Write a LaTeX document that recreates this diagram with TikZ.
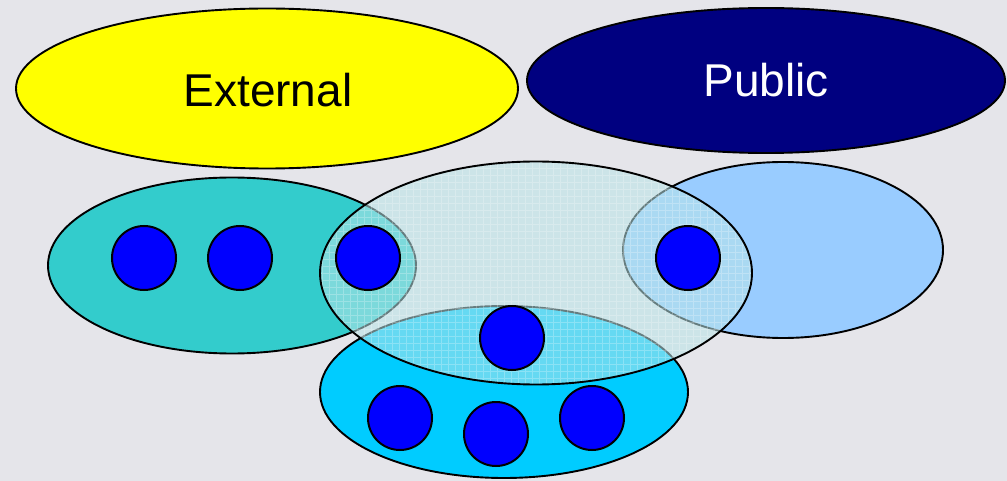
\documentclass[tikz,border=0pt]{standalone}
\usepackage{fontspec}
\setmainfont{Liberation Sans}
\usetikzlibrary{shapes.geometric}
\definecolor{bgray}{RGB}{229,229,234}
\definecolor{extyellow}{RGB}{255,255,0}
\definecolor{pubnavy}{RGB}{0,0,128}
\definecolor{tealzone}{RGB}{51,204,204}
\definecolor{skyzone}{RGB}{153,204,255}
\definecolor{cyanzone}{RGB}{0,204,255}
\definecolor{corefill}{RGB}{185,228,232}
\definecolor{member}{RGB}{0,0,255}
\tikzset{
  zone/.style={ellipse, draw=black, line width=1.9pt, inner sep=0pt},
  member/.style={circle, draw=black, fill=member, line width=2pt,
                 inner sep=0pt, minimum size=64pt},
  biglabel/.style={anchor=base, inner sep=0pt, font=\fontsize{46}{48}\selectfont}
}
\begin{document}
\begin{tikzpicture}[x=1pt,y=-1pt]
  \useasboundingbox (0,0) rectangle (1007,481);
  \fill[bgray] (0,0) rectangle (1007,481);

  % top labels
  \node[zone, fill=extyellow, minimum width=502pt, minimum height=160pt] (external) at (267,88.5) {};
  \node[zone, fill=pubnavy, minimum width=478pt, minimum height=145pt] (public) at (766,80.5) {};
  \node[biglabel] (externaltext) at (268,107) {External};
  \node[biglabel, text=white] (publictext) at (766,97) {Public};

  % lower zones
  \node[zone, fill=tealzone, minimum width=368pt, minimum height=176pt] (left) at (232,265.5) {};
  \node[zone, fill=skyzone, minimum width=320pt, minimum height=176pt] (right) at (783,250) {};
  \node[zone, fill=cyanzone, minimum width=368pt, minimum height=172pt] (bottom) at (504,392) {};

  % translucent central zone with a fine grid texture
  \fill[corefill, fill opacity=0.55] (536,273) ellipse [x radius=216, y radius=111.5];
  \begin{scope}
    \clip (536,273) ellipse [x radius=216, y radius=111.5];
    \draw[white, opacity=0.25, line width=0.5pt, step=7pt] (318,160) grid (756,388);
  \end{scope}
  \node[ellipse, draw=black, line width=1.9pt, inner sep=0pt,
        minimum width=432pt, minimum height=223pt] (core) at (536,273) {};

  % members
  \node[member] (m1) at (144,258) {};
  \node[member] (m2) at (240,258) {};
  \node[member] (m3) at (368,258) {};
  \node[member] (m4) at (688,258) {};
  \node[member] (m5) at (512,338) {};
  \node[member] (m6) at (400,418) {};
  \node[member] (m7) at (496,434) {};
  \node[member] (m8) at (592,418) {};
\end{tikzpicture}
\end{document}
